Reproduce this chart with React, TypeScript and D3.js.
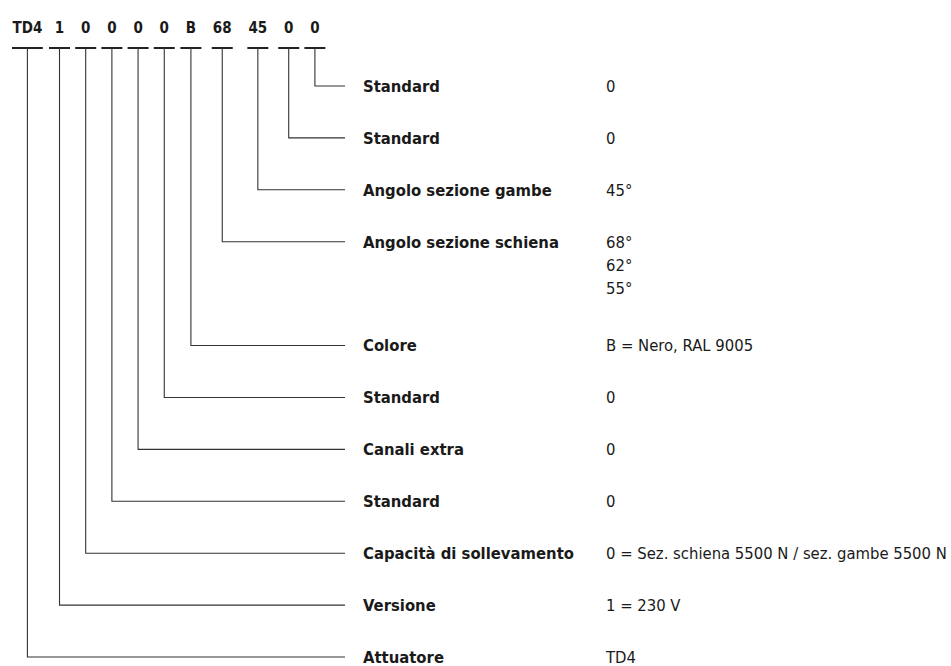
import { useEffect, useRef } from 'react';
import * as d3 from 'd3';

// code tokens, left to right, as printed in the header
const codeTokens = ['TD4', '1', '0', '0', '0', '0', 'B', '68', '45', '0', '0'];

// rows from top to bottom (last code token -> top row)
const rowLabels = [
  'Standard',
  'Standard',
  'Angolo sezione gambe',
  'Angolo sezione schiena',
  'Colore',
  'Standard',
  'Canali extra',
  'Standard',
  'Capacità di sollevamento',
  'Versione',
  'Attuatore',
];

const rowValues = [
  ['0'],
  ['0'],
  ['45°'],
  ['68°', '62°', '55°'],
  ['B = Nero, RAL 9005'],
  ['0'],
  ['0'],
  ['0'],
  ['0 = Sez. schiena 5500 N / sez. gambe 5500 N'],
  ['1 = 230 V'],
  ['TD4'],
];

// vertical slot of each row (extra gap under the stacked angle values)
const rowSlots = [0, 1, 2, 3, 5, 6, 7, 8, 9, 10, 11];

const FONT = '"DejaVu Sans Condensed", "Liberation Sans Narrow", "DejaVu Sans", sans-serif';

export default function App() {
  const svgRef = useRef<SVGSVGElement>(null);

  useEffect(() => {
    if (!svgRef.current) return;
    const width = 951;
    const height = 666;

    const svg = d3.select(svgRef.current);
    svg.selectAll('*').remove();
    svg.attr('viewBox', `0 0 ${width} ${height}`);

    const y = d3.scaleLinear().domain([0, 11]).range([86, 657]);
    const lineEnd = 345;
    const labelX = 363;
    const valueX = 606;
    const barY = 48;
    const ink = '#1a1a1a';
    const stroke = '#333';

    // header tokens laid out with a constant gap (tighter after the prefix)
    const header = svg.append('g');
    const texts = header.selectAll('text')
      .data(codeTokens)
      .join('text')
      .attr('y', 33)
      .style('font-family', FONT)
      .style('font-size', '15px')
      .style('font-weight', 'bold')
      .style('fill', ink)
      .text(d => d);

    const widths: number[] = [];
    texts.each(function () {
      widths.push((this as SVGTextElement).getComputedTextLength());
    });

    const centers: number[] = [];
    let cursor = 12.5;
    widths.forEach((w, i) => {
      if (i > 0) cursor += i === 1 ? 12.5 : 16.8;
      centers.push(cursor + w / 2);
      cursor += w;
    });

    texts.attr('x', (_, i) => centers[i]).attr('text-anchor', 'middle');

    const lines = svg.append('g')
      .attr('fill', 'none')
      .attr('stroke', stroke)
      .attr('stroke-width', 1.1);

    codeTokens.forEach((_, i) => {
      const cx = centers[i];
      const half = Math.max(widths[i], 20) / 2 + 0.5;
      const row = rowLabels.length - 1 - i;
      const ry = y(rowSlots[row]);
      lines.append('line')
        .attr('x1', cx - half).attr('x2', cx + half)
        .attr('y1', barY).attr('y2', barY)
        .attr('stroke', '#222')
        .attr('stroke-width', 2);
      lines.append('path')
        .attr('d', d3.line()([[cx, barY], [cx, ry], [lineEnd, ry]]));
    });

    const rows = svg.append('g')
      .selectAll('g')
      .data(rowLabels)
      .join('g')
      .attr('transform', (_, i) => `translate(0,${y(rowSlots[i])})`);

    rows.append('text')
      .attr('x', labelX)
      .attr('dy', '0.36em')
      .style('font-family', FONT)
      .style('font-size', '16.5px')
      .style('font-weight', 'bold')
      .style('fill', ink)
      .text(d => d);

    rows.each(function (_, i) {
      d3.select(this).selectAll('text.val')
        .data(rowValues[i])
        .join('text')
        .attr('class', 'val')
        .attr('x', valueX)
        .attr('y', (_, j) => j * 23)
        .attr('dy', '0.36em')
        .style('font-family', FONT)
        .style('font-size', '16.5px')
        .style('fill', ink)
        .text(d => d);
    });
  }, []);

  return (
    <div style={{ position: 'absolute', left: 0, top: 0, width: 951, height: 666, background: '#fff', overflow: 'hidden' }}>
      <svg ref={svgRef} width={951} height={666} style={{ display: 'block' }} />
    </div>
  );
}
